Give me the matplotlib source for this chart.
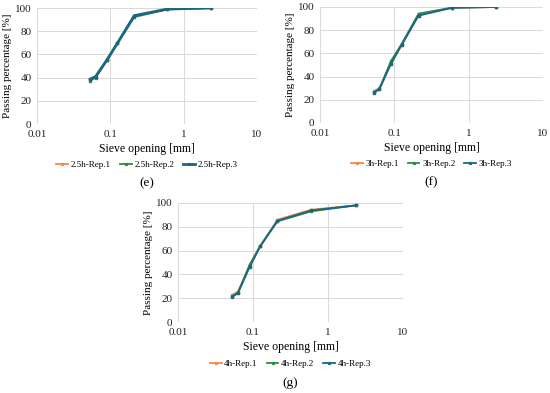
import matplotlib
matplotlib.use("Agg")
import matplotlib.pyplot as plt
from matplotlib.ticker import FixedLocator, FixedFormatter, NullLocator

plt.rcParams['font.family'] = ['Liberation Serif', 'DejaVu Serif']

sieve = [0.053, 0.063, 0.09, 0.125, 0.212, 0.6, 2.36]

e_rep1 = [38.0, 40.5, 55.0, 69.5, 93.0, 99.0, 100.0]
e_rep2 = [37.2, 40.0, 55.0, 69.5, 92.2, 98.8, 100.0]
e_rep3 = [38.6, 40.9, 55.3, 69.7, 93.4, 99.1, 100.0]

f_rep1 = [27.4, 30.0, 52.0, 67.5, 93.5, 99.4, 100.0]
f_rep2 = [26.5, 29.5, 53.4, 68.0, 94.3, 99.5, 100.0]
f_rep3 = [26.0, 29.1, 50.9, 67.0, 92.6, 99.3, 100.0]

g_rep1 = [22.8, 25.6, 47.5, 64.0, 86.0, 94.4, 98.0]
g_rep2 = [21.9, 24.5, 48.0, 64.0, 84.6, 93.0, 98.0]
g_rep3 = [21.1, 24.2, 46.1, 63.5, 85.1, 93.8, 98.0]

xticks = [0.01, 0.1, 1, 10]
xticklabels = ['0.01', '0.1', '1', '10']
yticks = [0, 20, 40, 60, 80, 100]

colors = ['#F08A4B', '#2E8B3E', '#1B6585']

panels = [
    ('(e)', '2.5h', [e_rep1, e_rep2, e_rep3], [37, 8, 257, 124], [1.3, 1.3, 2.0]),
    ('(f)', '3h', [f_rep1, f_rep2, f_rep3], [320, 7, 543, 123], [1.3, 1.3, 1.3]),
    ('(g)', '4h', [g_rep1, g_rep2, g_rep3], [178, 203, 403, 322], [1.3, 1.3, 1.3]),
]

W, H = 550, 393
fig = plt.figure(figsize=(5.5, 3.93), dpi=100)

for label, prefix, reps, (x0, y0, x1, y1), lws in panels:
    ax = fig.add_axes([x0 / W, (H - y1) / H, (x1 - x0) / W, (y1 - y0) / H])
    for i, (vals, c, lw) in enumerate(zip(reps, colors, lws)):
        ax.plot(sieve, vals, color=c, lw=lw, marker='s', ms=1.6,
                label=f'{prefix}-Rep.{i + 1}')
    ax.set_xscale('log')
    ax.set_xlim(0.01, 10)
    ax.set_ylim(0, 100)
    ax.xaxis.set_major_locator(FixedLocator(xticks))
    ax.xaxis.set_major_formatter(FixedFormatter(xticklabels))
    ax.xaxis.set_minor_locator(NullLocator())
    ax.set_yticks(yticks)
    ax.grid(True, color='#d9d9d9', lw=0.7)
    ax.set_axisbelow(True)
    for s in ax.spines.values():
        s.set_visible(False)
    ax.tick_params(length=0, labelsize=8, pad=4, colors='#222222')
    ax.set_xlabel('Sieve opening [mm]', fontsize=8.5, labelpad=3)
    ax.set_ylabel('Passing percentage [%]', fontsize=8, labelpad=2)
    leg = ax.legend(loc='upper center', bbox_to_anchor=(0.5, -0.25), ncol=3,
                    frameon=False, fontsize=6.5, handlelength=1.3,
                    handletextpad=0.3, columnspacing=1.0, markerscale=0.8)
    ax.text(0.5, -0.51, label, transform=ax.transAxes, ha='center',
            va='center', fontsize=9.5)

fig.savefig('out.png', dpi=100)
